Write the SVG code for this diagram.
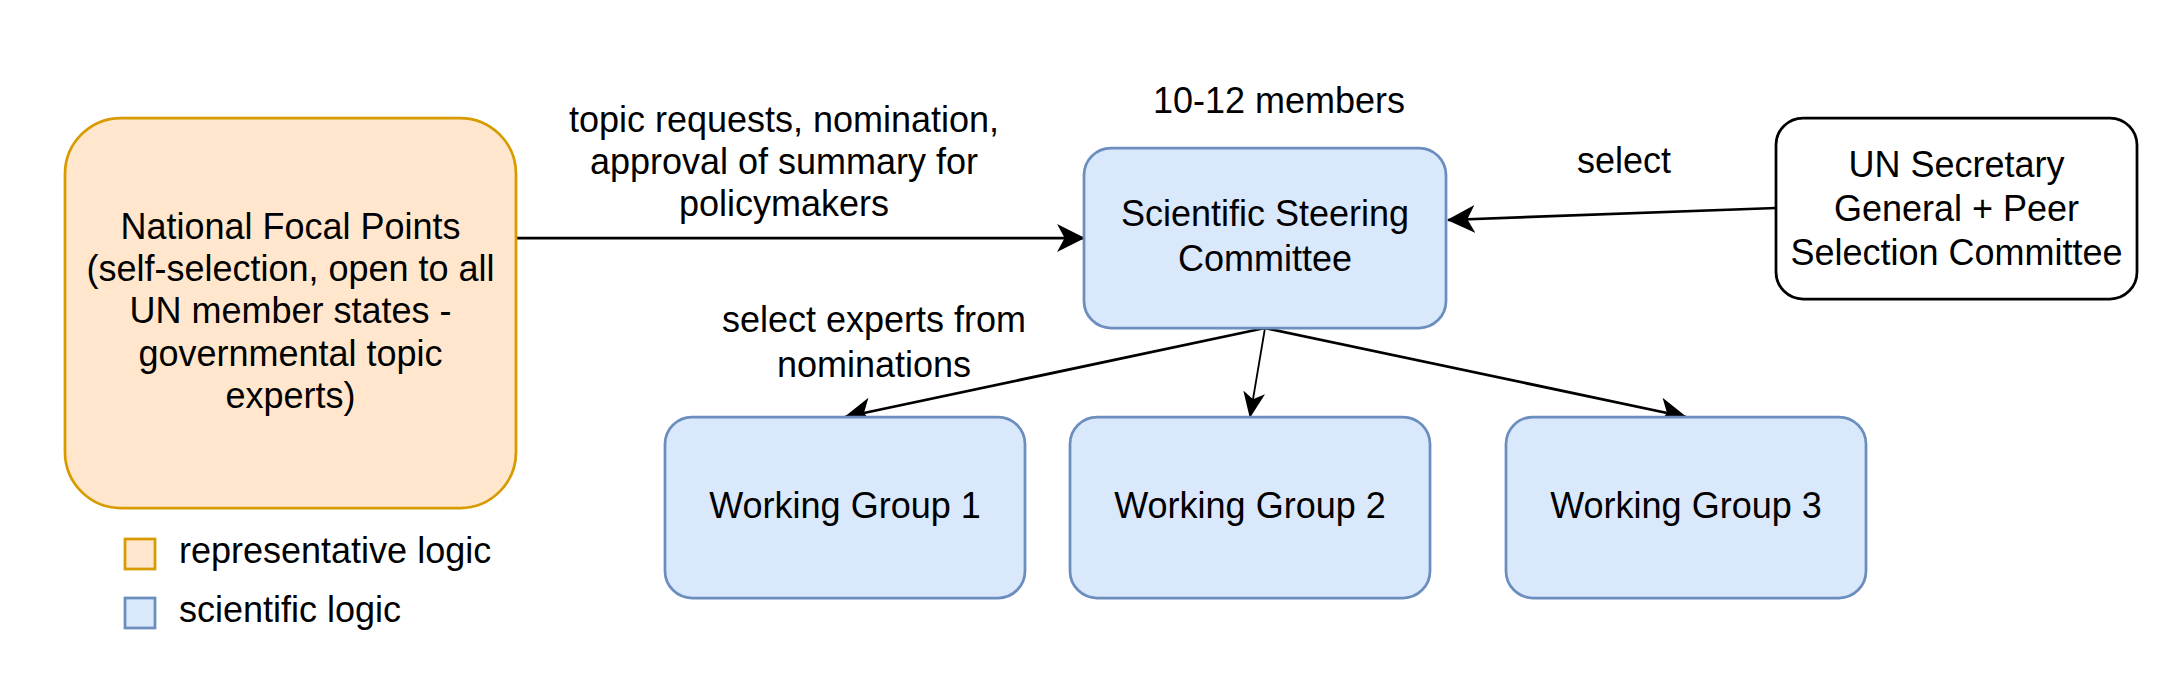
<svg xmlns="http://www.w3.org/2000/svg" width="2158" height="687" viewBox="0 0 2158 687">
<defs>
<style>
text{font-family:"Liberation Sans",Arial,Helvetica,sans-serif;font-size:36px;fill:#000;}
.c{text-anchor:middle;}
.org{fill:#ffe6cc;stroke:#d79b00;stroke-width:2.75;}
.blu{fill:#dae8fc;stroke:#6c8ebf;stroke-width:2.75;}
.wht{fill:#fff;stroke:#000;stroke-width:2.75;}
.edge{fill:none;stroke:#000;stroke-width:2.75;marker-end:url(#arr);}
.thin{fill:none;stroke:#000;stroke-width:1.8;marker-end:url(#arrs);}
</style>
<marker id="arr" markerUnits="userSpaceOnUse" markerWidth="28" markerHeight="28" viewBox="0 0 26 26" refX="25" refY="13" orient="auto">
<path d="M0,0 L26,13 L0,26 L7,13 Z" fill="#000"/>
</marker>
<marker id="arrs" markerUnits="userSpaceOnUse" markerWidth="26" markerHeight="26" viewBox="0 0 26 26" refX="25" refY="13" orient="auto">
<path d="M0,2 L26,13 L0,24 L7,13 Z" fill="#000"/>
</marker>
</defs>
<rect width="2158" height="687" fill="#fff"/>
<g id="connectors">
<path class="edge" d="M516,238 L1084,238"/>
<path class="edge" d="M1776,208 L1448,220"/>
<path class="edge" d="M1265,328 L845,417"/>
<path class="thin" d="M1265,328 L1250,417"/>
<path class="edge" d="M1265,328 L1686,417"/>
</g>
<g id="label-topic">
<text class="c" x="784" y="132">topic requests, nomination,</text>
<text class="c" x="784" y="174">approval of summary for</text>
<text class="c" x="784" y="216">policymakers</text>
</g>
<g id="label-members"><text class="c" x="1279" y="113">10-12 members</text></g>
<g id="label-select"><text class="c" x="1624" y="173">select</text></g>
<g id="label-experts">
<text class="c" x="874" y="332">select experts from</text>
<text class="c" x="874" y="377">nominations</text>
</g>
<g id="nfp">
<rect class="org" x="65" y="118" width="451" height="390" rx="56" ry="56"/>
<text class="c" x="290.5" y="239">National Focal Points</text>
<text class="c" x="290.5" y="281">(self-selection, open to all</text>
<text class="c" x="290.5" y="323">UN member states -</text>
<text class="c" x="290.5" y="366">governmental topic</text>
<text class="c" x="290.5" y="408">experts)</text>
</g>
<g id="ssc">
<rect class="blu" x="1084" y="148" width="362" height="180" rx="27" ry="27"/>
<text class="c" x="1265" y="226">Scientific Steering</text>
<text class="c" x="1265" y="271">Committee</text>
</g>
<g id="un">
<rect class="wht" x="1776" y="118" width="361" height="181" rx="27" ry="27"/>
<text class="c" x="1956.5" y="177">UN Secretary</text>
<text class="c" x="1956.5" y="221">General + Peer</text>
<text class="c" x="1956.5" y="265">Selection Committee</text>
</g>
<g id="wg1">
<rect class="blu" x="665" y="417" width="360" height="181" rx="27" ry="27"/>
<text class="c" x="845" y="518">Working Group 1</text>
</g>
<g id="wg2">
<rect class="blu" x="1070" y="417" width="360" height="181" rx="27" ry="27"/>
<text class="c" x="1250" y="518">Working Group 2</text>
</g>
<g id="wg3">
<rect class="blu" x="1506" y="417" width="360" height="181" rx="27" ry="27"/>
<text class="c" x="1686" y="518">Working Group 3</text>
</g>
<g id="legend">
<rect class="org" x="125" y="539" width="30" height="30"/>
<text x="179" y="563">representative logic</text>
<rect class="blu" x="125" y="598" width="30" height="30"/>
<text x="179" y="622">scientific logic</text>
</g>
</svg>
